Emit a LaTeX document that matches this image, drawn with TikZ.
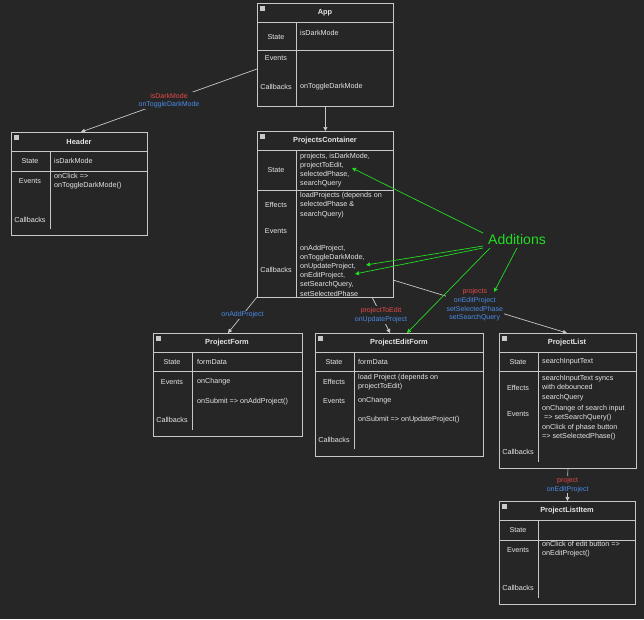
\documentclass[tikz,border=0pt]{standalone}
\usepackage{fontspec}
\setmainfont{Liberation Sans}
\usetikzlibrary{arrows.meta}
\definecolor{bg}{HTML}{262626}
\definecolor{fg}{HTML}{E6E6E6}
\definecolor{ln}{HTML}{C8C8C8}
\definecolor{rd}{HTML}{E84848}
\definecolor{bl}{HTML}{4A8CE8}
\definecolor{gr}{HTML}{22DD22}
\begin{document}
\begin{tikzpicture}[x=1pt,y=-1pt,
  box/.style={draw=ln,line width=0.8pt,anchor=north west,inner sep=0pt},
  ttl/.style={font=\fontsize{7.4}{8}\selectfont\bfseries,text=fg,inner sep=0pt},
  lab/.style={font=\fontsize{7.2}{9.2}\selectfont,text=fg,inner sep=0pt},
  val/.style={font=\fontsize{7.2}{9.2}\selectfont,text=fg,inner sep=0pt,anchor=west,align=left},
  sep/.style={draw=ln,line width=0.8pt},
  icon/.style={fill=ln,minimum size=4.5pt,inner sep=0pt,anchor=north west},
  con/.style={draw=ln,line width=0.7pt,-{Triangle[width=4pt,length=4pt]}},
  gcon/.style={draw=gr,line width=0.7pt,-{Triangle[width=4pt,length=4pt]}},
  elab/.style={font=\fontsize{7}{8.6}\selectfont,inner sep=1pt,fill=bg,align=center}]
\fill[bg] (0,0) rectangle (644,619);
\useasboundingbox (0,0) rectangle (644,619);
% App
\node[box,minimum width=136pt,minimum height=103pt] (app) at (257,3) {};
\node[icon] (appi) at (260,6) {};
\node[ttl] (appt) at (325,12.5) {App};
\draw[sep] (257,22)--(393,22) (257,50)--(393,50) (296,22)--(296,106);
\node[lab] (app1) at (276,37) {State};
\node[lab] (app2) at (276,58) {Events};
\node[lab] (app3) at (276,87) {Callbacks};
\node[val] (app4) at (300,33) {isDarkMode};
\node[val] (app5) at (300,87) {onToggleDarkMode};
% Header
\node[box,minimum width=136pt,minimum height=103pt] (hdr) at (11,132) {};
\node[icon] (hdri) at (14,135) {};
\node[ttl] (hdrt) at (79,142) {Header};
\draw[sep] (11,151)--(147,151) (11,171)--(147,171) (50,151)--(50,229);
\node[lab] (h1) at (30,161) {State};
\node[lab] (h2) at (30,181) {Events};
\node[lab] (h3) at (30,220) {Callbacks};
\node[val] (h4) at (54,161) {isDarkMode};
\node[val] (h5) at (54,181) {onClick =>\\onToggleDarkMode()};
% ProjectsContainer
\node[box,minimum width=136pt,minimum height=166pt] (pc) at (257,131) {};
\node[icon] (pci) at (260,134) {};
\node[ttl] (pct) at (325,141) {ProjectsContainer};
\draw[sep] (257,150)--(393,150) (257,190)--(393,190) (296,150)--(296,297);
\node[lab] (p1) at (276,170) {State};
\node[lab] (p2) at (276,205) {Effects};
\node[lab] (p3) at (276,231) {Events};
\node[lab] (p4) at (276,270) {Callbacks};
\node[val] (p5) at (300,170) {projects, isDarkMode,\\projectToEdit,\\selectedPhase,\\searchQuery};
\node[val] (p6) at (300,205) {loadProjects (depends on\\selectedPhase \&\\searchQuery)};
\node[val] (p7) at (300,270.5) {onAddProject,\\onToggleDarkMode,\\onUpdateProject,\\onEditProject,\\setSearchQuery,\\setSelectedPhase};
% ProjectForm
\node[box,minimum width=149pt,minimum height=103pt] (pf) at (153,333) {};
\node[icon] (pfi) at (156,336) {};
\node[ttl] (pft) at (227,343) {ProjectForm};
\draw[sep] (153,352)--(302,352) (153,371)--(302,371) (192,352)--(192,430);
\node[lab] (f1) at (172,362) {State};
\node[lab] (f2) at (172,382) {Events};
\node[lab] (f3) at (172,420) {Callbacks};
\node[val] (f4) at (197,362) {formData};
\node[val] (f5) at (197,382) {onChange};
\node[val] (f6) at (197,402) {onSubmit => onAddProject()};
% ProjectEditForm
\node[box,minimum width=168pt,minimum height=123pt] (pef) at (315,333) {};
\node[icon] (pefi) at (318,336) {};
\node[ttl] (peft) at (399,343) {ProjectEditForm};
\draw[sep] (315,352)--(483,352) (315,371)--(483,371) (354,352)--(354,449);
\node[lab] (e1) at (334,362) {State};
\node[lab] (e2) at (334,382) {Effects};
\node[lab] (e3) at (334,401) {Events};
\node[lab] (e4) at (334,440) {Callbacks};
\node[val] (e5) at (358,362) {formData};
\node[val] (e6) at (358,382) {load Project (depends on\\projectToEdit)};
\node[val] (e7) at (358,401) {onChange};
\node[val] (e8) at (358,420) {onSubmit => onUpdateProject()};
% ProjectList
\node[box,minimum width=137pt,minimum height=135pt] (pl) at (499,333) {};
\node[icon] (pli) at (502,336) {};
\node[ttl] (plt) at (567,343) {ProjectList};
\draw[sep] (499,352)--(636,352) (499,371)--(636,371) (538,352)--(538,462);
\node[lab] (l1) at (518,362) {State};
\node[lab] (l2) at (518,388) {Effects};
\node[lab] (l3) at (518,414) {Events};
\node[lab] (l4) at (518,452) {Callbacks};
\node[val] (l5) at (542,362) {searchInputText};
\node[val] (l6) at (542,388) {searchInputText syncs\\with debounced\\searchQuery};
\node[val] (l7) at (542,413.5) {onChange of search input\\\ => setSearchQuery()};
\node[val] (l8) at (542,432.5) {onClick of phase button\\=> setSelectedPhase()};
% ProjectListItem
\node[box,minimum width=136pt,minimum height=103pt] (pli2) at (499,501) {};
\node[icon] (pli2i) at (502,504) {};
\node[ttl] (pli2t) at (567,511) {ProjectListItem};
\draw[sep] (499,520)--(635,520) (499,540)--(635,540) (538,520)--(538,598);
\node[lab] (i1) at (518,530) {State};
\node[lab] (i2) at (518,550) {Events};
\node[lab] (i3) at (518,588) {Callbacks};
\node[val] (i4) at (542,549.5) {onClick of edit button =>\\onEditProject()};
% connectors
\coordinate (a1) at (257,69);
\coordinate (h0) at (81,132);
\draw[con] (a1) -- (h0) node[elab,pos=0.5] {\textcolor{rd}{isDarkMode}\\\textcolor{bl}{onToggleDarkMode}};
\draw[con] (app.south) -- (pc.north);
\coordinate (c1) at (257,297); \coordinate (c2) at (228,333);
\draw[con] (c1) -- (c2) node[elab,pos=0.5] {\textcolor{bl}{onAddProject}};
\coordinate (c3) at (372,297); \coordinate (c4) at (390,333);
\draw[con] (c3) -- (c4) node[elab,pos=0.5] {\textcolor{rd}{projectToEdit}\\\textcolor{bl}{onUpdateProject}};
\coordinate (c5) at (393,280); \coordinate (c6) at (567,333);
\draw[con] (c5) -- (c6) node[elab,pos=0.47] (plab) {\textcolor{rd}{projects}\\\textcolor{bl}{onEditProject}\\\textcolor{bl}{setSelectedPhase}\\\textcolor{bl}{setSearchQuery}};
\draw[con] (pl.south) -- (pli2.north) node[elab,pos=0.5] {\textcolor{rd}{project}\\\textcolor{bl}{onEditProject}};
% Additions
\node[font=\fontsize{14}{16}\selectfont,text=gr,inner sep=0pt] (add) at (517,239) {Additions};
\coordinate (g1) at (352,168); \coordinate (g2) at (366,265); \coordinate (g3) at (355,274);
\coordinate (g4) at (407,333); \coordinate (g5) at (494,292);
\draw[gcon] (483,233) -- (g1);
\draw[gcon] (483,246) -- (g2);
\draw[gcon] (483,248) -- (g3);
\draw[gcon] (490,248) -- (g4);
\draw[gcon] (517,248) -- (g5);
\end{tikzpicture}
\end{document}
